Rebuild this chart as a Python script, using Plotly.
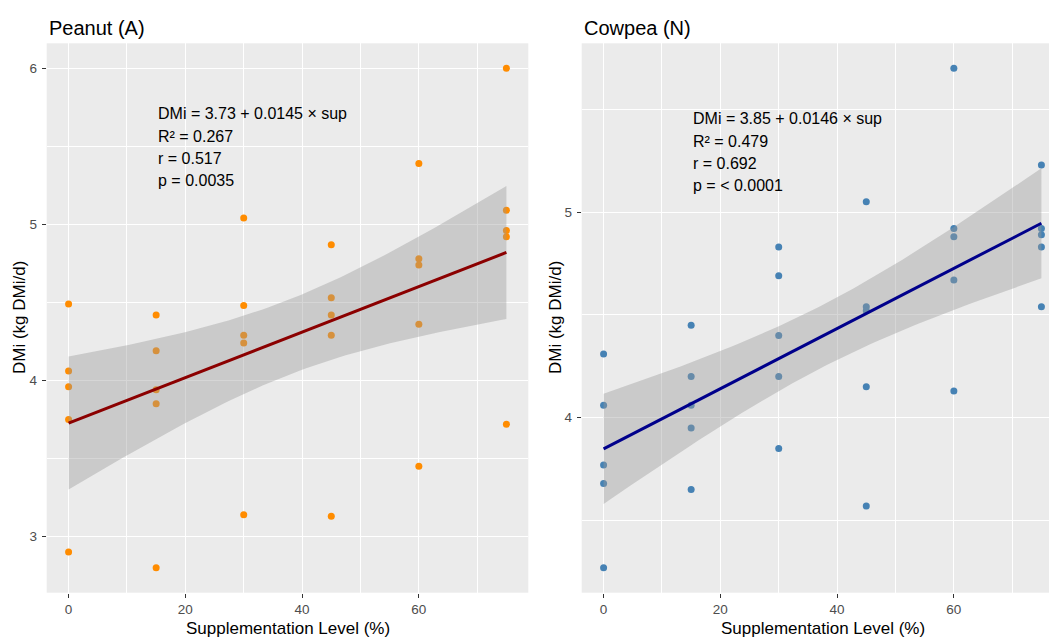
import numpy as np
import plotly.graph_objects as go

# ---------------- data ----------------
sup_levels = [0, 15, 30, 45, 60, 75]

peanut_x = [0, 0, 0, 0, 0, 15, 15, 15, 15, 15, 30, 30, 30, 30, 30,
            45, 45, 45, 45, 45, 60, 60, 60, 60, 60, 75, 75, 75, 75, 75]
peanut_y = [4.49, 4.06, 3.96, 3.75, 2.90,
            4.42, 4.19, 3.94, 3.85, 2.80,
            5.04, 4.48, 4.29, 4.24, 3.14,
            4.87, 4.53, 4.42, 4.29, 3.13,
            5.39, 4.78, 4.74, 4.36, 3.45,
            6.00, 5.09, 4.96, 4.92, 3.72]

cowpea_x = list(peanut_x)
cowpea_y = [4.31, 4.06, 3.77, 3.68, 3.27,
            4.45, 4.20, 4.06, 3.95, 3.65,
            4.83, 4.69, 4.40, 4.20, 3.85,
            5.05, 4.54, 4.52, 4.15, 3.57,
            5.70, 4.92, 4.88, 4.67, 4.13,
            5.23, 4.92, 4.89, 4.83, 4.54]

peanut_stats = ["DMi = 3.73 + 0.0145 \u00d7 sup", "R\u00b2 = 0.267", "r = 0.517", "p = 0.0035"]
cowpea_stats = ["DMi = 3.85 + 0.0146 \u00d7 sup", "R\u00b2 = 0.479", "r = 0.692", "p = < 0.0001"]

peanut_title = "Peanut (A)"
cowpea_title = "Cowpea (N)"
x_title = "Supplementation Level (%)"
y_title = "DMi (kg DMi/d)"

# ---------------- styling ----------------
FONT = "Liberation Sans, Arial, sans-serif"
BG = "#EBEBEB"
T_CRIT = 2.0484  # t(0.975, df=28)


def fit_band(x, y):
    x = np.asarray(x, float)
    y = np.asarray(y, float)
    n = len(x)
    b1, b0 = np.polyfit(x, y, 1)
    xm = x.mean()
    sxx = ((x - xm) ** 2).sum()
    resid = y - (b0 + b1 * x)
    s = np.sqrt((resid ** 2).sum() / (n - 2))
    xs = np.linspace(x.min(), x.max(), 80)
    yh = b0 + b1 * xs
    se = s * np.sqrt(1.0 / n + (xs - xm) ** 2 / sxx)
    return xs, yh, yh - T_CRIT * se, yh + T_CRIT * se


def expanded(vals, mult=0.05):
    lo, hi = min(vals), max(vals)
    d = (hi - lo) * mult
    return [lo - d, hi + d]


fig = go.Figure()

panels = [
    dict(x=peanut_x, y=peanut_y, color="#FF8C00", line="#8B0000", xa="x", ya="y"),
    dict(x=cowpea_x, y=cowpea_y, color="#4682B4", line="#00008B", xa="x2", ya="y2"),
]

for p in panels:
    fig.add_trace(go.Scatter(x=p["x"], y=p["y"], mode="markers",
                             marker=dict(color=p["color"], size=7, line=dict(width=0)),
                             xaxis=p["xa"], yaxis=p["ya"], showlegend=False, hoverinfo="skip"))
    xs, yh, lo, hi = fit_band(p["x"], p["y"])
    fig.add_trace(go.Scatter(x=np.concatenate([xs, xs[::-1]]),
                             y=np.concatenate([hi, lo[::-1]]),
                             fill="toself", fillcolor="rgba(153,153,153,0.4)",
                             line=dict(width=0), mode="lines",
                             xaxis=p["xa"], yaxis=p["ya"], showlegend=False, hoverinfo="skip"))
    fig.add_trace(go.Scatter(x=xs, y=yh, mode="lines",
                             line=dict(color=p["line"], width=3),
                             xaxis=p["xa"], yaxis=p["ya"], showlegend=False, hoverinfo="skip"))

W, H = 1049, 637
Y_DOM = [(H - 592.7) / H, (H - 43.3) / H]
xr = expanded(sup_levels)
unit_w = (528.3 - 46.7) / (xr[1] - xr[0])
x2_max = xr[0] + (W - 581.7) / unit_w

common_x = dict(tickvals=[0, 20, 40, 60], ticks="outside", ticklen=4, tickwidth=1,
                tickcolor="#333333", tickfont=dict(size=13.5, color="#4D4D4D", family=FONT),
                showgrid=True, gridcolor="white", gridwidth=1.1, zeroline=False, showline=False,
                minor=dict(tickvals=[10, 30, 50, 70], showgrid=True, gridcolor="white",
                           gridwidth=0.55, ticks=""))
common_y = dict(ticks="outside", ticklen=4, tickwidth=1, tickcolor="#333333",
                ticklabelstandoff=2,
                tickfont=dict(size=13.5, color="#4D4D4D", family=FONT),
                showgrid=True, gridcolor="white", gridwidth=1.1, zeroline=False, showline=False)

fig.update_layout(
    width=W, height=H, margin=dict(l=0, r=0, t=0, b=0),
    paper_bgcolor="white", plot_bgcolor=BG, font=dict(family=FONT),
    xaxis=dict(domain=[46.7 / W, 528.3 / W], range=xr, anchor="y", **common_x),
    yaxis=dict(domain=Y_DOM, range=expanded(peanut_y), anchor="x",
               tickvals=[3, 4, 5, 6],
               minor=dict(tickvals=[2.5, 3.5, 4.5, 5.5], showgrid=True, gridcolor="white",
                          gridwidth=0.55, ticks=""), **common_y),
    xaxis2=dict(domain=[581.7 / W, 1.0], range=[xr[0], x2_max], anchor="y2", **common_x),
    yaxis2=dict(domain=Y_DOM, range=expanded(cowpea_y), anchor="x2",
                tickvals=[4, 5],
                minor=dict(tickvals=[3.5, 4.5, 5.5], showgrid=True, gridcolor="white",
                           gridwidth=0.55, ticks=""), **common_y),
)

ann = []
# panel titles
ann.append(dict(text=peanut_title, xref="paper", yref="paper", x=46.7 / W, y=(H - 28) / H,
                xanchor="left", yanchor="middle", showarrow=False,
                font=dict(size=20, color="black", family=FONT)))
ann.append(dict(text=cowpea_title, xref="paper", yref="paper", x=581.7 / W, y=(H - 28) / H,
                xanchor="left", yanchor="middle", showarrow=False,
                font=dict(size=20, color="black", family=FONT)))
# axis titles
for xc in [(46.7 + 528.3) / 2, 822.5]:
    ann.append(dict(text=x_title, xref="paper", yref="paper", x=xc / W, y=(H - 628) / H,
                    xanchor="center", yanchor="middle", showarrow=False,
                    font=dict(size=17, color="black", family=FONT)))
for xc in [19, 555]:
    ann.append(dict(text=y_title, xref="paper", yref="paper", x=xc / W, y=(H - 318) / H,
                    xanchor="center", yanchor="middle", showarrow=False, textangle=-90,
                    font=dict(size=17, color="black", family=FONT)))
# stats text
peanut_lines_y = [5.713, 5.566, 5.419, 5.278]
cowpea_lines_y = [5.456, 5.345, 5.235, 5.128]
for txt, yy in zip(peanut_stats, peanut_lines_y):
    ann.append(dict(text=txt, xref="x", yref="y", x=15, y=yy, xanchor="left", yanchor="middle",
                    showarrow=False, font=dict(size=16, color="black", family=FONT)))
for txt, yy in zip(cowpea_stats, cowpea_lines_y):
    ann.append(dict(text=txt, xref="x2", yref="y2", x=15, y=yy, xanchor="left", yanchor="middle",
                    showarrow=False, font=dict(size=16, color="black", family=FONT)))
fig.update_layout(annotations=ann)

fig.write_html("out.html", config={"displayModeBar": False},
               post_script="document.body.style.margin='0';")
